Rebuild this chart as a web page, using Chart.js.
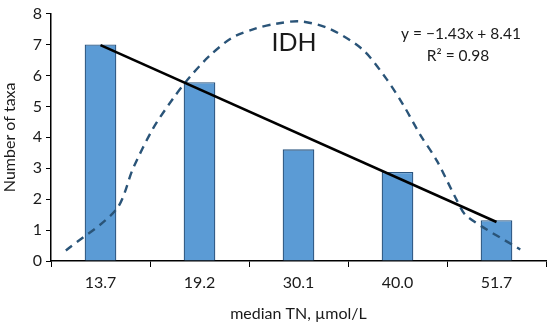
<!DOCTYPE html>
<html>
<head>
<meta charset="utf-8">
<script src="https://cdn.jsdelivr.net/npm/chart.js@4.4.1/dist/chart.umd.min.js"></script>
<style>
  html, body { margin: 0; padding: 0; background: #fff; }
  #wrap { width: 550px; height: 323px; }
</style>
</head>
<body>
<div id="wrap"><canvas id="myChart1"></canvas></div>
<script>
// categories (median TN, umol/L) and taxa counts
var categories = ["13.7", "19.2", "30.1", "40.0", "51.7"];
var taxa = [7.0, 5.78, 3.61, 2.88, 1.32];

// linear trend end points (category position, value)
var trendX = [1, 5];
var trendY = [6.98, 1.26];

// dashed IDH curve (category position, value)
var idhX = [0.65, 1.16, 1.33, 1.53, 1.73, 1.90, 2.10, 2.33, 2.57, 2.77, 3.02, 3.32, 3.65, 3.89, 4.06, 4.23, 4.40, 4.60, 4.70, 5.24];
var idhY = [0.34, 1.67, 3.00, 4.28, 5.24, 5.94, 6.63, 7.22, 7.52, 7.67, 7.75, 7.50, 6.83, 5.88, 5.04, 4.08, 3.23, 1.96, 1.45, 0.37];

var yTicks = [0, 1, 2, 3, 4, 5, 6, 7, 8];

function pts(xs, ys) {
  return xs.map(function (x, i) { return { x: x, y: ys[i] }; });
}

var fontFam = "Lato, 'Open Sans', sans-serif";

// text labels inside the plot
var notes = {
  id: 'notes',
  afterDraw: function (chart) {
    var c = chart.ctx;
    c.save();
    c.fillStyle = '#1a1a1a';
    c.textAlign = 'center';
    c.textBaseline = 'middle';
    c.font = '25px ' + fontFam;
    c.fillText('IDH', 294, 43);
    c.font = '15.5px ' + fontFam;
    c.fillText('y = \u22121.43x + 8.41', 461, 34);
    c.fillText('R\u00B2 = 0.98', 458, 56);
    c.restore();
  }
};

var ctx = document.getElementById('myChart1').getContext('2d');
var chart = new Chart(ctx, {
  type: 'bar',
  data: {
    labels: categories,
    datasets: [{
      label: 'Number of taxa',
      data: taxa,
      backgroundColor: '#5b9bd5',
      borderColor: '#2a5580',
      borderWidth: 1.3,
      barPercentage: 0.32,
      categoryPercentage: 1,
      grouped: false,
      order: 3
    }, {
      type: 'line',
      label: 'trend',
      xAxisID: 'xl',
      data: pts(trendX, trendY),
      borderColor: '#000',
      borderWidth: 2.6,
      pointRadius: 0,
      order: 1
    }, {
      type: 'line',
      label: 'IDH',
      xAxisID: 'xl',
      data: pts(idhX, idhY),
      borderColor: '#2a5478',
      borderWidth: 2.4,
      borderDash: [8, 6],
      tension: 0.3,
      pointRadius: 0,
      order: 2
    }]
  },
  plugins: [notes],
  options: {
    responsive: true,
    maintainAspectRatio: false,
    animation: false,
    layout: { padding: { top: 11, right: 4, left: 0, bottom: 0 } },
    plugins: { legend: { display: false }, tooltip: { enabled: false } },
    scales: {
      x: {
        grid: { display: true, drawOnChartArea: false, offset: true, color: '#000', tickLength: 6, lineWidth: 1 },
        border: { color: '#000', width: 1.5 },
        ticks: { color: '#1a1a1a', font: { family: fontFam, size: 16 }, padding: 6 },
        title: { display: true, text: 'median TN, \u00B5mol/L', color: '#1a1a1a', font: { family: fontFam, size: 16 }, padding: { top: 4, bottom: 0 } },
        afterFit: function (s) { s.height = 62; }
      },
      xl: {
        type: 'linear',
        axis: 'x',
        display: false,
        offset: false,
        min: 0.5,
        max: 5.5
      },
      y: {
        min: 0,
        max: 8,
        afterBuildTicks: function (s) { s.ticks = yTicks.map(function (v) { return { value: v }; }); },
        grid: { display: true, drawOnChartArea: false, color: '#000', tickLength: 5 },
        border: { color: '#000', width: 1.5 },
        ticks: { color: '#1a1a1a', font: { family: fontFam, size: 16 }, padding: 4 },
        title: { display: true, text: 'Number of taxa', color: '#1a1a1a', font: { family: fontFam, size: 16 }, padding: { top: 0, bottom: 0 } },
        afterFit: function (s) { s.width = 51; }
      }
    }
  }
});
</script>
</body>
</html>
